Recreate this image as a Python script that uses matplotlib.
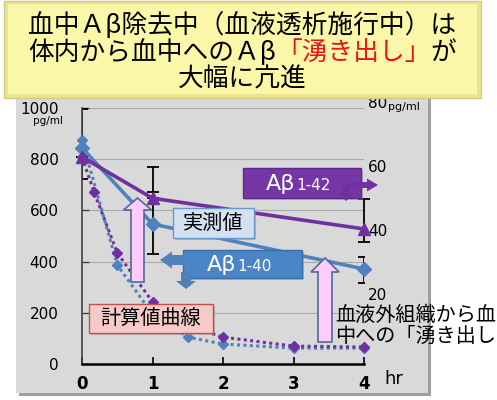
import matplotlib
matplotlib.use('Agg')
import matplotlib.pyplot as plt
from matplotlib.patches import Rectangle, Polygon
from matplotlib.transforms import ScaledTranslation

W, H = 497, 400
JP = ['Noto Sans CJK JP', 'DejaVu Sans']
NUM = 'DejaVu Sans'

# measured values (hr / pg/ml)
t_meas = [0, 1, 4]
ab40_meas = [844, 547, 371]            # left axis
ab40_err_lo = [121, 117, 55]
ab40_err_hi = [152, 125, 47]
ab42_meas = [64.7, 51.8, 42.2]         # right axis
ab42_err_lo = [0, 0, 4.0]
ab42_err_hi = [0, 9.8, 9.4]

# calculated clearance curves
t_calc40 = [0, 0.5, 1, 1.5, 2, 3, 4]
ab40_calc = [875, 387, 195, 105, 78, 62, 62]
t_calc42 = [0, 0.17, 0.5, 1, 1.5, 2, 3, 4]
ab42_calc = [64.7, 53.8, 34.7, 19.4, 12.0, 8.4, 5.6, 5.3]

left_ticks = [0, 200, 400, 600, 800, 1000]
right_ticks = [20, 40, 60, 80]
right_labels = ['20', '40', '60', '80']
hours = [0, 1, 2, 3, 4]

PURPLE = '#7030A0'
BLUE = '#4F81BD'


def fx(x):
    return x / W


def fy(y):
    return 1 - y / H


def rect(x0, y0, x1, y1, fc, ec='none', lw=1.0, z=5, shadow=False):
    if shadow:
        fig.add_artist(Rectangle((fx(x0 + 2), fy(y1 + 2)), (x1 - x0) / W, (y1 - y0) / H,
                                 transform=fig.transFigure, fc='#8C8C8C', ec='none',
                                 alpha=0.45, zorder=z - 0.1))
    fig.add_artist(Rectangle((fx(x0), fy(y1)), (x1 - x0) / W, (y1 - y0) / H,
                             transform=fig.transFigure, fc=fc, ec=ec, lw=lw, zorder=z))


def poly(pts, fc, ec='none', lw=1.0, z=6):
    fig.add_artist(Polygon([(fx(x), fy(y)) for x, y in pts], closed=True,
                           transform=fig.transFigure, fc=fc, ec=ec, lw=lw, zorder=z))


def up_arrow(cx, y_tip, y_neck, y_bottom, body_w, head_w, fc, ec, lw=1.2):
    b, h = body_w / 2, head_w / 2
    poly([(cx - b, y_bottom), (cx - b, y_neck), (cx - h, y_neck), (cx, y_tip),
          (cx + h, y_neck), (cx + b, y_neck), (cx + b, y_bottom)], fc, ec, lw)


def h_arrow(x_tail, x_neck, x_tip, cy, body_h, head_h, fc):
    b, h = body_h / 2, head_h / 2
    poly([(x_tail, cy - b), (x_neck, cy - b), (x_neck, cy - h), (x_tip, cy),
          (x_neck, cy + h), (x_neck, cy + b), (x_tail, cy + b)], fc)


def down_arrow(cx, y_tail, y_neck, y_tip, body_w, head_w, fc):
    b, h = body_w / 2, head_w / 2
    poly([(cx - b, y_tail), (cx - b, y_neck), (cx - h, y_neck), (cx, y_tip),
          (cx + h, y_neck), (cx + b, y_neck), (cx + b, y_tail)], fc)


def sub_label(x, y, big, small, size_big, size_small, color):
    # "Aβ" followed by the smaller fragment number on the same baseline
    t = fig.text(fx(x), fy(y), big, fontsize=size_big, color=color, family=NUM,
                 ha='left', va='baseline', zorder=8)
    bb = t.get_window_extent(renderer)
    fig.text(fx(bb.x1 + 1), fy(y), small, fontsize=size_small, color=color,
             family=NUM, ha='left', va='baseline', zorder=8)


fig = plt.figure(figsize=(W / 100, H / 100), dpi=100)
renderer = fig.canvas.get_renderer()

# gray chart panel with drop shadow
fig.add_artist(Rectangle((fx(19), fy(396)), (428 - 16) / W, (393 - 95) / H,
                         transform=fig.transFigure, fc='#9E9E9E', ec='none', zorder=-3))
fig.add_artist(Rectangle((fx(16), fy(393)), (428 - 16) / W, (393 - 95) / H,
                         transform=fig.transFigure, fc='#D9D9D9', ec='none', zorder=-2))

ax = fig.add_axes([fx(82), fy(364), (364 - 82) / W, (364 - 108) / H])
ax.patch.set_visible(False)
ax.set_xlim(0, 4)
ax.set_ylim(0, 1000)
ax2 = ax.twinx()
ax2.set_ylim(0, 80)
ax2.patch.set_visible(False)

for s in ['top', 'right']:
    ax.spines[s].set_visible(False)
for s in ax2.spines.values():
    s.set_visible(False)
ax.spines['left'].set_color('#404040')
ax.spines['left'].set_linewidth(1.2)
ax.spines['bottom'].set_color('black')
ax.spines['bottom'].set_linewidth(1.8)

ax.set_axisbelow(True)
ax.yaxis.grid(True, color='#ABABAB', lw=0.8)
ax.set_yticks(left_ticks)
ax.set_yticklabels([str(v) for v in left_ticks], fontsize=11, family=NUM)
ax.set_xticks(hours)
ax.set_xticklabels([str(v) for v in hours], fontsize=12, family=NUM, fontweight='bold')
ax.tick_params(axis='y', direction='in', length=5, width=1.0, color='#404040', pad=17)
ax.tick_params(axis='x', direction='in', length=5, width=1.2, color='black', pad=8)

ax2.set_yticks(right_ticks)
ax2.set_yticklabels(right_labels, fontsize=11, family=NUM)
ax2.tick_params(axis='y', length=0, pad=3)
lift = ScaledTranslation(0, 4 / 72, fig.dpi_scale_trans)
for lab in ax2.get_yticklabels():
    lab.set_transform(lab.get_transform() + lift)

# calculated curves (dotted)
ax.plot(t_calc40, ab40_calc, color=BLUE, lw=2.2, ls=(0, (1, 1.1)),
        marker='D', ms=5.5, clip_on=False, zorder=3)
ax2.plot(t_calc42, ab42_calc, color=PURPLE, lw=2.2, ls=(0, (1, 1.1)),
         marker='D', ms=5.5, clip_on=False, zorder=3)

# measured values
ax.errorbar(t_meas, ab40_meas, yerr=[ab40_err_lo, ab40_err_hi], fmt='none',
            ecolor='black', elinewidth=1.3, capsize=4, capthick=1.3, zorder=2)
ax.plot(t_meas, ab40_meas, color=BLUE, lw=2.6, marker='D', ms=7, clip_on=False, zorder=4)
eb = ax2.errorbar(t_meas, ab42_meas, yerr=[ab42_err_lo, ab42_err_hi], fmt='none',
                  ecolor='black', elinewidth=1.3, capsize=4, capthick=1.3, zorder=2)
for art in eb.lines[1] + eb.lines[2]:
    art.set_clip_on(False)
ax2.plot(t_meas, ab42_meas, color=PURPLE, lw=2.6, marker='^', ms=9, clip_on=False, zorder=4)

# unit labels and time label
fig.text(fx(33), fy(121), 'pg/ml', fontsize=7.5, family=NUM, va='center', ha='left')
fig.text(fx(388), fy(107), 'pg/ml', fontsize=8, family=NUM, va='center', ha='left')
fig.text(fx(384), fy(379), 'hr', fontsize=13, family=NUM, va='center', ha='left')

# title banner
rect(4, 1, 481, 98, fc='#E9E58E', ec='#CFCB86', lw=1.0, z=5)
rect(8, 4, 477, 94, fc='#FAF7A8', z=5.1)
t1 = fig.text(fx(242), fy(26), '血中Ａβ除去中（血液透析施行中）は', fontsize=18.5,
              family=JP, ha='center', va='center', zorder=8)
x_start = t1.get_window_extent(renderer).x0
t2 = fig.text(x_start / W, fy(53), '体内から血中へのＡβ', fontsize=18.5,
              family=JP, ha='left', va='center', zorder=8)
x_next = t2.get_window_extent(renderer).x1
t3 = fig.text(x_next / W, fy(53), '「湧き出し」', fontsize=18.5, color='#E8141C',
              family=JP, ha='left', va='center', zorder=8)
x_next = t3.get_window_extent(renderer).x1
fig.text(x_next / W, fy(53), 'が', fontsize=18.5, family=JP, ha='left', va='center', zorder=8)
fig.text(fx(242), fy(80), '大幅に亢進', fontsize=18.5, family=JP, ha='center',
         va='center', zorder=8)

# Aβ1-42 label with arrows
rect(243, 168, 361, 198, fc='#7537A6', ec='#5E2A88', lw=1.0, z=5, shadow=True)
sub_label(266, 190, 'Aβ', '1-42', 16, 11, 'white')
h_arrow(350, 367, 378, 185, 6, 13, PURPLE)
down_arrow(346, 184, 193, 201, 8, 17, PURPLE)

# measured-value label
rect(173, 208, 254, 238, fc='#D3E1F3', ec='#6A96CC', lw=1.0, z=5, shadow=True)
fig.text(fx(213.5), fy(223), '実測値', fontsize=14.5, family=JP, ha='center',
         va='center', zorder=8)

# Aβ1-40 label with arrows
rect(183, 250, 302, 278, fc='#4A85C6', ec='#3A6EA8', lw=1.0, z=5, shadow=True)
sub_label(207, 271, 'Aβ', '1-40', 16, 11, 'white')
h_arrow(186, 172, 160, 260, 10, 17, BLUE)
down_arrow(186, 272, 281, 289, 10, 20, BLUE)

# calculated-curve label
rect(89, 304, 213, 333, fc='#F6CAC8', ec='#C0504D', lw=1.0, z=5, shadow=True)
fig.text(fx(151), fy(318.5), '計算値曲線', fontsize=14.5, family=JP, ha='center',
         va='center', zorder=8)

# upward pink arrows: release into the blood
up_arrow(137.5, 198, 210, 282, 13, 28, '#FFCCFF', '#4F6A96')
up_arrow(325, 258, 272, 342, 14, 28, '#FFCCFF', '#4F6A96')

fig.text(fx(335), fy(315), '血液外組織から血', fontsize=14.5, family=JP,
         ha='left', va='center', zorder=8)
fig.text(fx(335), fy(336), '中への「湧き出し', fontsize=14.5, family=JP,
         ha='left', va='center', zorder=8)

fig.savefig('out.png', dpi=100)
